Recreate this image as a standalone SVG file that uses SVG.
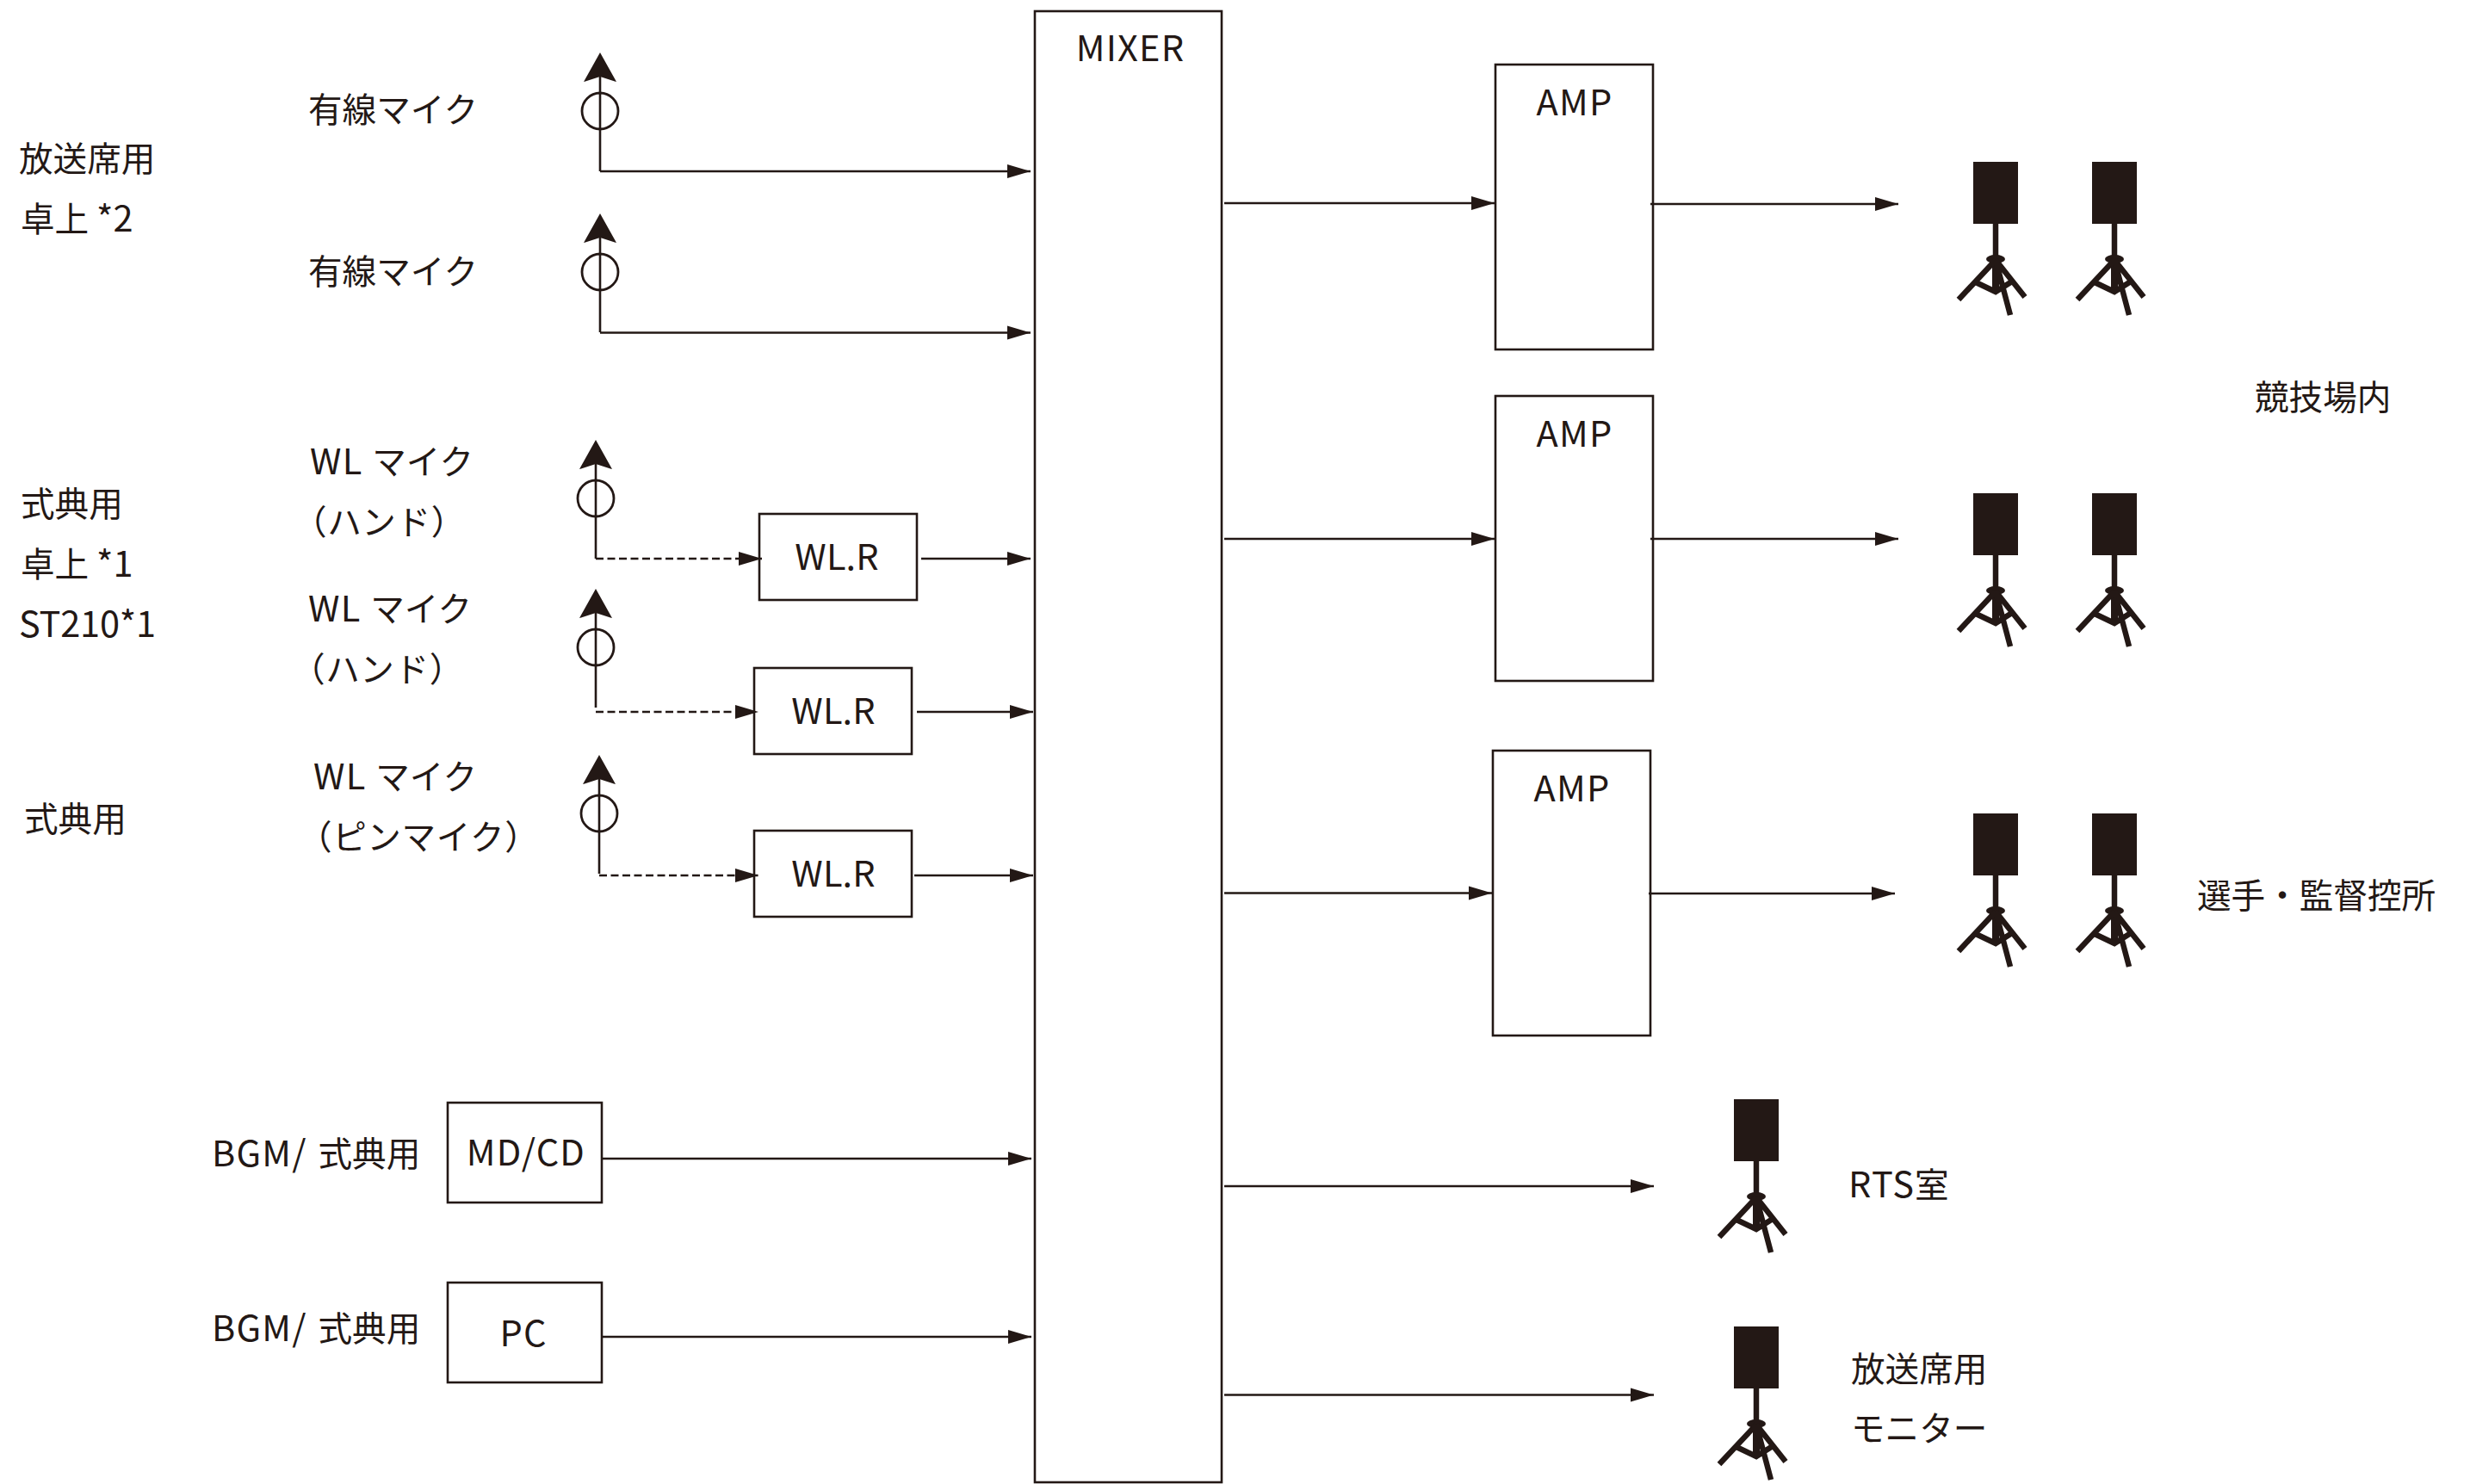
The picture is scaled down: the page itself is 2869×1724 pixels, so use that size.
<svg xmlns="http://www.w3.org/2000/svg" xmlns:xlink="http://www.w3.org/1999/xlink" width="2869" height="1724" viewBox="0 0 2869 1724">
<style>
.b{fill:#fff;stroke:#231815;stroke-width:2.6}
.l{fill:none;stroke:#231815;stroke-width:2.6}
.d{fill:none;stroke:#231815;stroke-width:2.6;stroke-dasharray:9 4.5}
.h{fill:#231815;stroke:none}
.m{fill:none;stroke:#231815;stroke-width:2.8}
.s{fill:none;stroke:#231815;stroke-width:6.5}
text{font-family:"Noto Sans CJK JP","Noto Sans",sans-serif;font-size:39.6px;fill:#231815;font-weight:400}
.t{font-size:41.5px;letter-spacing:1.2px}
.c{text-anchor:middle}
</style>
<defs>
<marker id="ah" markerUnits="userSpaceOnUse" markerWidth="28" markerHeight="18" refX="27" refY="8" orient="auto" overflow="visible"><path class="h" d="M0 0L27 8L0 16L0 0Z"/></marker>
<g id="mic"><path class="h" d="M0 -68L-19 -34L-17 -34.500L0 -40L17 -34.500L19 -34Z"/><circle class="m" cx="0" cy="0" r="21"/><path class="l" d="M0 -40V70"/></g>
<g id="spk"><rect class="h" x="0" y="0" width="52" height="72"/><path class="s" d="M26 72V150"/><path class="h" d="M22 114H30V151H22Z"/><ellipse class="h" cx="26" cy="113" rx="11" ry="5"/><path class="s" d="M26 114L-17 160M26 114L60 157M26 114L43 178M3 140L26 151L45 139"/></g>
</defs>
<g id="mixer"><rect class="b" x="1202" y="13" width="217" height="1709"/><text x="1313" y="71" class="c"><tspan class="t">MIXER</tspan></text></g>
<g id="amp1"><rect class="b" x="1737" y="75" width="183" height="331"/><text x="1829" y="134" class="c"><tspan class="t">AMP</tspan></text></g>
<g id="amp2"><rect class="b" x="1737" y="460" width="183" height="331"/><text x="1829" y="519" class="c"><tspan class="t">AMP</tspan></text></g>
<g id="amp3"><rect class="b" x="1734" y="872" width="183" height="331"/><text x="1826" y="931" class="c"><tspan class="t">AMP</tspan></text></g>
<g id="wlr1"><rect class="b" x="882" y="597" width="183" height="100"/><text x="972" y="662" class="c"><tspan class="t" style="letter-spacing:.1px">WL.R</tspan></text></g>
<g id="wlr2"><rect class="b" x="876" y="776" width="183" height="100"/><text x="968" y="841" class="c"><tspan class="t" style="letter-spacing:.1px">WL.R</tspan></text></g>
<g id="wlr3"><rect class="b" x="876" y="965" width="183" height="100"/><text x="968" y="1030" class="c"><tspan class="t" style="letter-spacing:.1px">WL.R</tspan></text></g>
<g id="mdcd"><rect class="b" x="520" y="1281" width="179" height="116"/><text x="611" y="1354" class="c"><tspan class="t">MD/CD</tspan></text></g>
<g id="pc"><rect class="b" x="520" y="1490" width="179" height="116"/><text x="608" y="1564" class="c"><tspan class="t">PC</tspan></text></g>
<g id="mic1"><use xlink:href="#mic" href="#mic" x="697" y="129"/><text x="358" y="142">有線マイク</text></g>
<g id="mic2"><use xlink:href="#mic" href="#mic" x="697" y="316"/><text x="358" y="330">有線マイク</text></g>
<g id="mic3"><use xlink:href="#mic" href="#mic" x="692" y="579"/><text x="360" y="551"><tspan class="t">WL</tspan><tspan dx="2"> マイク</tspan></text><text x="340" y="621" letter-spacing=".6">（ハンド）</text></g>
<g id="mic4"><use xlink:href="#mic" href="#mic" x="692" y="752"/><text x="358" y="722"><tspan class="t">WL</tspan><tspan dx="2"> マイク</tspan></text><text x="338" y="792" letter-spacing=".6">（ハンド）</text></g>
<g id="mic5"><use xlink:href="#mic" href="#mic" x="696" y="945"/><text x="364" y="917"><tspan class="t">WL</tspan><tspan dx="2"> マイク</tspan></text><text x="346" y="987" letter-spacing=".6">（ピンマイク）</text></g>
<g id="spk1"><use xlink:href="#spk" href="#spk" x="2292" y="188"/></g>
<g id="spk2"><use xlink:href="#spk" href="#spk" x="2430" y="188"/></g>
<g id="spk3"><use xlink:href="#spk" href="#spk" x="2292" y="573"/></g>
<g id="spk4"><use xlink:href="#spk" href="#spk" x="2430" y="573"/></g>
<g id="spk5"><use xlink:href="#spk" href="#spk" x="2292" y="945"/></g>
<g id="spk6"><use xlink:href="#spk" href="#spk" x="2430" y="945"/></g>
<g id="spk7"><use xlink:href="#spk" href="#spk" x="2014" y="1277"/></g>
<g id="spk8"><use xlink:href="#spk" href="#spk" x="2014" y="1541"/></g>
<g id="labels">
<text x="22" y="199">放送席用</text><text x="24" y="269">卓上 <tspan class="t" style="letter-spacing:.2px">*2</tspan></text>
<text x="24" y="600">式典用</text><text x="24" y="670">卓上 <tspan class="t" style="letter-spacing:.2px">*1</tspan></text><text x="22" y="740"><tspan class="t" style="letter-spacing:-.2px">ST210*1</tspan></text>
<text x="28" y="966">式典用</text>
<text x="246" y="1355"><tspan class="t">BGM/</tspan><tspan dx="4"> 式典用</tspan></text><text x="246" y="1558"><tspan class="t">BGM/</tspan><tspan dx="4"> 式典用</tspan></text>
<text x="2619" y="476">競技場内</text><text x="2552" y="1055">選手・監督控所</text>
<text x="2147" y="1391"><tspan class="t">RTS</tspan>室</text><text x="2150" y="1605">放送席用</text><text x="2150" y="1674">モニター</text>
</g>
<g id="connectors">
<path class="l" marker-end="url(#ah)" d="M697 199H1197"/>
<path class="l" marker-end="url(#ah)" d="M697 386.500H1197"/>
<path class="d" marker-end="url(#ah)" d="M692 649H885"/>
<path class="l" marker-end="url(#ah)" d="M1070 649H1197"/>
<path class="d" marker-end="url(#ah)" d="M692 827H881"/>
<path class="l" marker-end="url(#ah)" d="M1065 827H1200"/>
<path class="d" marker-end="url(#ah)" d="M696 1017H881"/>
<path class="l" marker-end="url(#ah)" d="M1062 1017H1200"/>
<path class="l" marker-end="url(#ah)" d="M699 1346H1198"/>
<path class="l" marker-end="url(#ah)" d="M699 1553H1198"/>
<path class="l" marker-end="url(#ah)" d="M1422 236H1736"/>
<path class="l" marker-end="url(#ah)" d="M1422 626H1736"/>
<path class="l" marker-end="url(#ah)" d="M1422 1037.500H1733"/>
<path class="l" marker-end="url(#ah)" d="M1917 237H2205"/>
<path class="l" marker-end="url(#ah)" d="M1917 626H2205"/>
<path class="l" marker-end="url(#ah)" d="M1915 1038H2201"/>
<path class="l" marker-end="url(#ah)" d="M1422 1378H1921"/>
<path class="l" marker-end="url(#ah)" d="M1422 1620.500H1921"/>
</g>
</svg>
